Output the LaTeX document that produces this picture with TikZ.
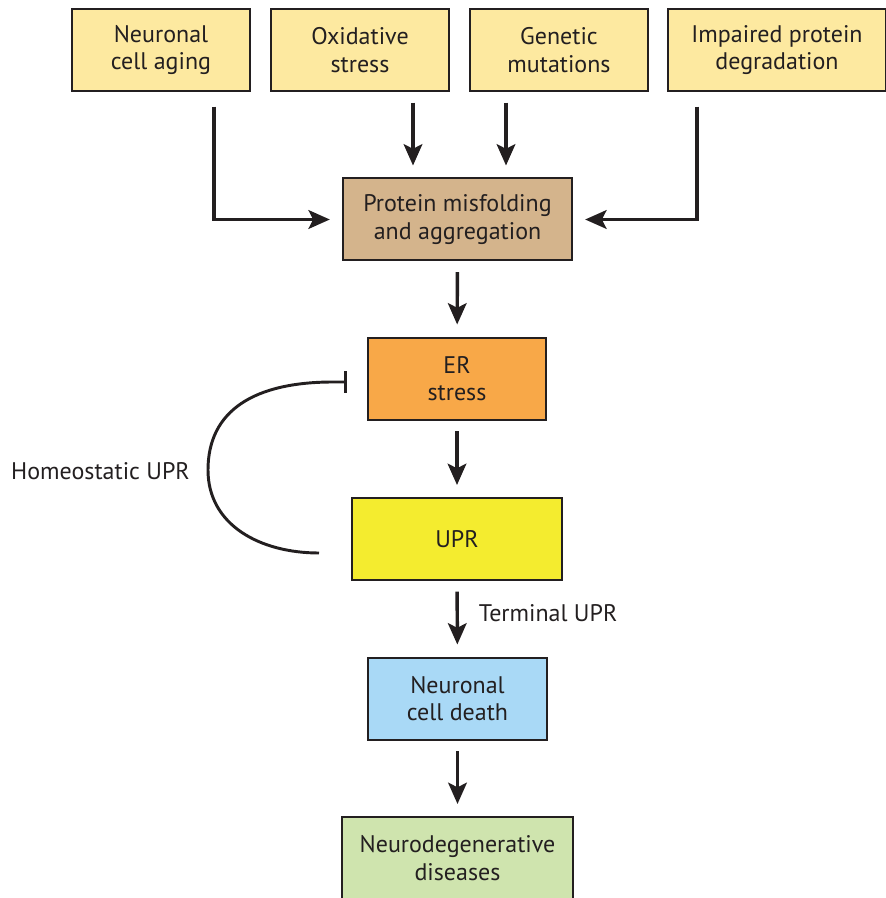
\documentclass[tikz,border=0pt]{standalone}
\usepackage{fontspec}
\setmainfont{PT Sans}
\usetikzlibrary{arrows.meta,calc}
\definecolor{ink}{HTML}{231F20}
\definecolor{causefill}{HTML}{FDE9A0}
\definecolor{misfoldfill}{HTML}{D4B48C}
\definecolor{erfill}{HTML}{F8A848}
\definecolor{uprfill}{HTML}{F4EC2F}
\definecolor{deathfill}{HTML}{A9D9F6}
\definecolor{diseasefill}{HTML}{CFE4AE}

\begin{document}
\begin{tikzpicture}[x=0.75pt,y=-0.75pt,
	box/.style={draw=ink,line width=1.5pt,align=center,inner sep=0pt,minimum height=61.5pt,text=ink,font=\fontsize{18}{20.5}\selectfont},
	cause/.style={box,fill=causefill,minimum width=133.5pt},
	lbl/.style={inner sep=0pt,text=ink,font=\fontsize{18}{20.5}\selectfont},
	flow/.style={draw=ink,line width=2.6pt,-{Stealth[length=16pt,width=14pt,inset=3.5pt]},shorten <=8pt,shorten >=9pt}]
	\useasboundingbox (0,0) rectangle (885,898);
	\node[cause] (aging) at (161,50) {Neuronal\\cell aging};
	\node[cause] (oxid) at (360,50) {Oxidative\\stress};
	\node[cause] (genet) at (559,50) {Genetic\\mutations};
	\node[cause,minimum width=163pt] (degrad) at (777,50) {Impaired protein\\degradation};
	\node[box,fill=misfoldfill,minimum width=172pt] (misfold) at (457.5,219.5) {Protein misfolding\\and aggregation};
	\node[box,fill=erfill,minimum width=133.5pt] (erstress) at (457,378.5) {ER\\stress};
	\node[box,fill=uprfill,minimum width=157.5pt] (upr) at (457,539) {UPR};
	\node[box,fill=deathfill,minimum width=134pt] (death) at (457.5,698.5) {Neuronal\\cell death};
	\node[box,fill=diseasefill,minimum width=173pt] (disease) at (457.5,858) {Neurodegenerative\\diseases};

	\draw[flow,shorten <=11pt] ([xshift=39.75pt]aging.south) |- (misfold.west);
	\draw[flow] ([xshift=39.75pt]oxid.south) -- ([xshift=39.75pt]oxid.south |- misfold.north);
	\draw[flow] ([xshift=-39.75pt]genet.south) -- ([xshift=-39.75pt]genet.south |- misfold.north);
	\draw[flow,shorten <=11pt] ([xshift=-60pt]degrad.south) |- (misfold.east);
	\draw[flow] (misfold) -- (erstress);
	\draw[flow] (erstress) -- (upr);
	\draw[flow] (upr) -- node[lbl,anchor=west,xshift=15pt,yshift=4pt] (termlab) {Terminal UPR} (death);
	\draw[flow] (death) -- (disease);

	\coordinate (hstart) at ($(upr.west)+(-32,14)$);
	\coordinate (hend) at ($(erstress.west)+(-20,3.5)$);
	\draw[draw=ink,line width=2.2pt,-{Bar[width=16pt,line width=2.2pt]}] (hstart) .. controls (260,553) and (208,525) .. (208,470)
		.. controls (208,410) and (255,382) .. (333,382) -- (hend);
	\node[lbl,anchor=east] (homeo) at (190,471) {Homeostatic UPR};
\end{tikzpicture}
\end{document}
